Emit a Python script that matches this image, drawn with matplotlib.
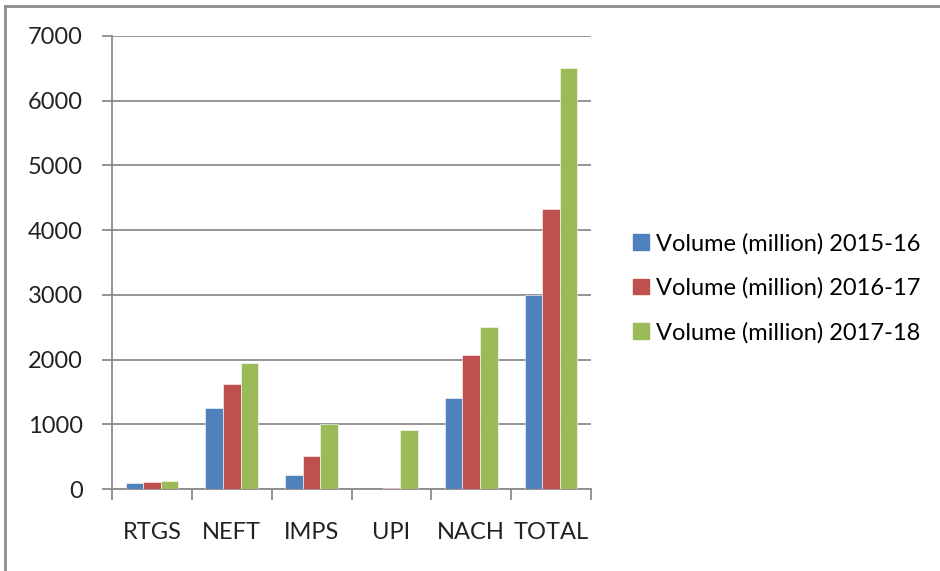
import matplotlib.pyplot as plt
import numpy as np
from matplotlib.patches import Patch
from matplotlib.lines import Line2D

# данные (млн транзакций)
categories = ['RTGS', 'NEFT', 'IMPS', 'UPI', 'NACH', 'TOTAL']
series_names = ['Volume (million) 2015-16', 'Volume (million) 2016-17', 'Volume (million) 2017-18']
vol_2015 = [98, 1252, 220, 0, 1408, 3005]
vol_2016 = [108, 1622, 507, 18, 2067, 4320]
vol_2017 = [124, 1946, 1010, 915, 2500, 6500]
y_ticks = [0, 1000, 2000, 3000, 4000, 5000, 6000, 7000]

colors = ['#4F81BD', '#C0504D', '#9BBB59']
grid_col = '#8c8c8c'

plt.rcParams['font.family'] = ['Lato', 'DejaVu Sans']

fig = plt.figure(figsize=(9.4, 5.71), dpi=100)
ax = fig.add_axes([112 / 940, 82 / 571, 479 / 940, 453 / 571])

x = np.arange(len(categories))
w = 0.22
for i, vals in enumerate([vol_2015, vol_2016, vol_2017]):
    ax.bar(x + (i - 1) * w, vals, width=w, color=colors[i], edgecolor='white',
           linewidth=0.4, label=series_names[i], zorder=3)

ax.set_xlim(-0.5, len(categories) - 0.5)
ax.set_ylim(0, 7000)
ax.set_yticks(y_ticks)
ax.set_yticklabels([str(v) for v in y_ticks], fontsize=17, color='#222222')
ax.set_xticks(x)
ax.set_xticklabels(categories, fontsize=17, color='#222222')
ax.tick_params(axis='x', length=0, pad=24)
ax.set_xticks(np.arange(-0.5, len(categories), 1), minor=True)
ax.tick_params(axis='x', which='minor', length=8, width=1.3, color=grid_col)
ax.tick_params(axis='y', length=7, width=1.3, color=grid_col, pad=14)

ax.grid(axis='y', color=grid_col, linewidth=1.3, zorder=0)
for s in ['top', 'right']:
    ax.spines[s].set_visible(False)
for s in ['left', 'bottom']:
    ax.spines[s].set_color(grid_col)
    ax.spines[s].set_linewidth(1.3)

handles = [Patch(color=c) for c in colors]
fig.legend(handles, series_names, loc='center left', bbox_to_anchor=(612 / 940, 1 - 288 / 571),
           frameon=False, fontsize=17, handlelength=0.65, handleheight=0.65,
           handletextpad=0.3, labelspacing=0.98)

# рамка диаграммы (видны только верх и левый край)
fig.add_artist(Line2D([5 / 940, 5 / 940], [0, 1 - 6 / 571], transform=fig.transFigure,
                      color='#8c8c8c', linewidth=2))
fig.add_artist(Line2D([5 / 940, 1], [1 - 6 / 571, 1 - 6 / 571], transform=fig.transFigure,
                      color='#8c8c8c', linewidth=2))

fig.savefig('out.png', dpi=100)
